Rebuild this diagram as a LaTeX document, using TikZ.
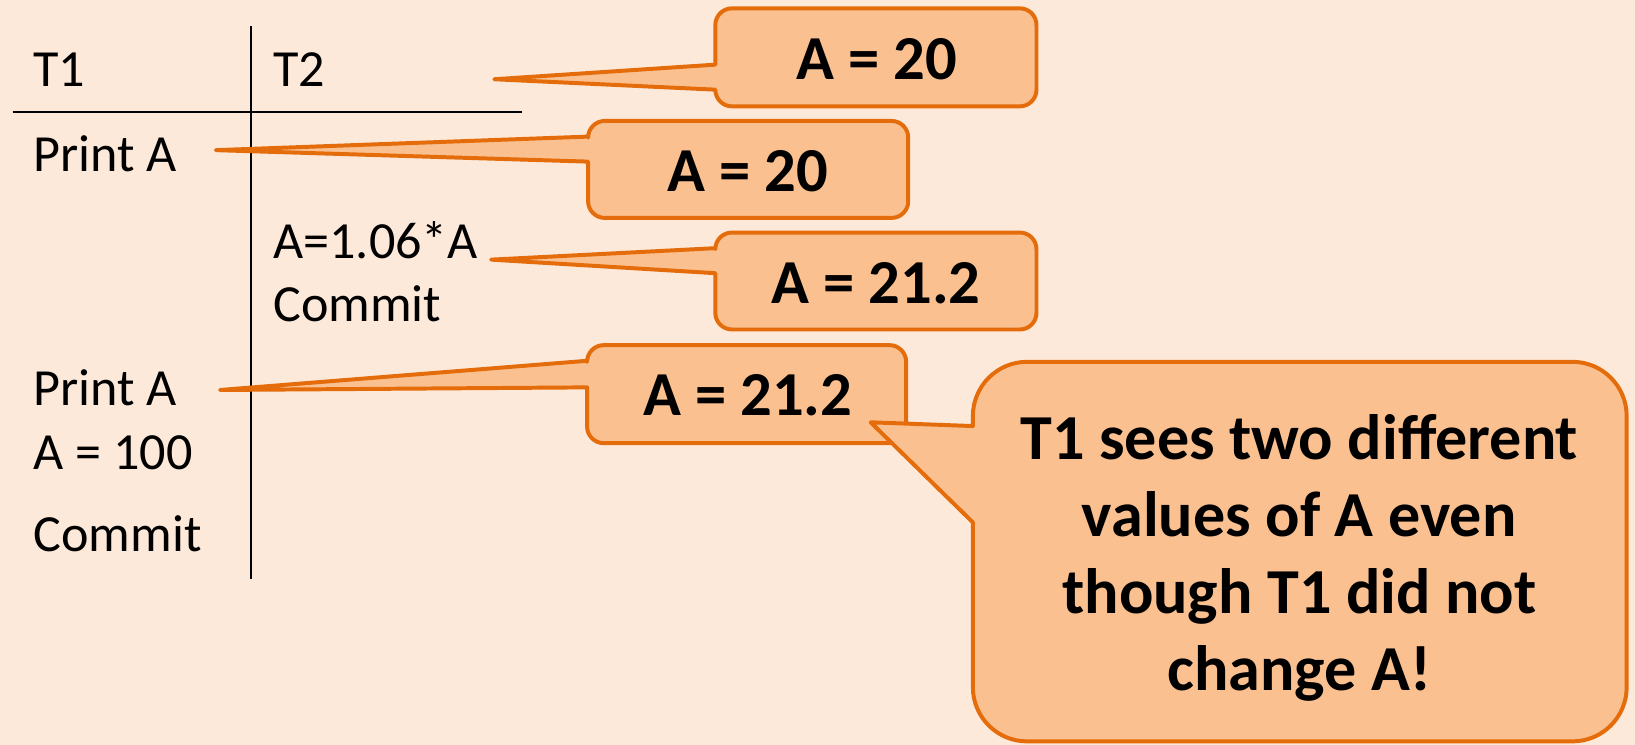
\documentclass[tikz,border=0pt]{standalone}
\usepackage{fontspec}
\setmainfont{Carlito}
\definecolor{bgc}{HTML}{FDE9D9}
\definecolor{boxfill}{HTML}{FAC090}
\definecolor{boxline}{HTML}{E46C0A}
\tikzset{
  calloutstyle/.style={fill=boxfill,draw=boxline,line width=3.8pt,line join=round},
  tableline/.style={draw=black,line width=1.8pt},
  plain/.style={font=\fontsize{50}{60}\selectfont,inner sep=0pt,anchor=base west},
  valtext/.style={font=\bfseries\fontsize{60}{72}\selectfont,inner sep=0pt,anchor=center},
  notetext/.style={font=\bfseries\fontsize{61.5}{73.6}\selectfont,inner sep=0pt,align=center,anchor=center}
}
% L T R B r y1 y2 tip
\newcommand\rcallout[8]{%
  \filldraw[calloutstyle] (#1,#6) -- (#1,#2+#5) arc[start angle=180,end angle=270,radius=#5]
    -- (#3-#5,#2) arc[start angle=270,end angle=360,radius=#5]
    -- (#3,#4-#5) arc[start angle=0,end angle=90,radius=#5]
    -- (#1+#5,#4) arc[start angle=90,end angle=180,radius=#5]
    -- (#1,#7) -- (#8) -- cycle;}
\begin{document}
\begin{tikzpicture}[x=1pt,y=-1pt]
\useasboundingbox (0,0) rectangle (1568,714);
\fill[bgc] (0,0) rectangle (1568,714);
% table
\coordinate (vtop) at (241,25);
\coordinate (vbot) at (241,555);
\coordinate (hl) at (12,107.5);
\coordinate (hr) at (501,107.5);
\draw[tableline] (vtop) -- (vbot);
\draw[tableline] (hl) -- (hr);
\node[plain] (t1) at (32,82.5) {T1};
\node[plain] (t2) at (262,82.5) {T2};
\node[plain] (p1) at (32,164.5) {Print A};
\node[plain] (upd) at (262,247.5) {A=1.06*A};
\node[plain] (c2) at (262,308.5) {Commit};
\node[plain] (p2) at (32,388.5) {Print A};
\node[plain] (a100) at (32,450) {A = 100};
\node[plain] (c1) at (32,529) {Commit};
% callouts
\coordinate (tip1) at (474,76);
\coordinate (tip2) at (207,144);
\coordinate (tip3) at (471,249);
\coordinate (tip4) at (211,374);
\coordinate (tip5) at (835,405);
\rcallout{686}{8}{994}{102}{16}{62}{86}{tip1}
\node[valtext] (v1) at (841,57) {A = 20};
\rcallout{564}{116}{871}{209}{16}{131}{155}{tip2}
\node[valtext] (v2) at (717,164.5) {A = 20};
\rcallout{686}{223}{994}{316}{16}{238}{262}{tip3}
\node[valtext] (v3) at (840,272) {A = 21.2};
\rcallout{563}{331}{869}{425}{16}{346}{371.5}{tip4}
\node[valtext] (v4) at (717,379) {A = 21.2};
\rcallout{933}{347}{1560}{711}{52}{408.6}{501}{tip5}
\node[notetext] (note) at (1246,535) {T1 sees two different\\values of A even\\though T1 did not\\change A!};
\end{tikzpicture}
\end{document}
